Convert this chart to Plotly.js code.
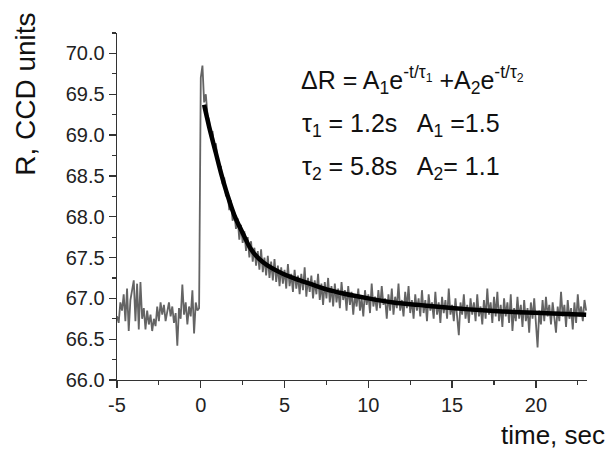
<!DOCTYPE html>
<html>
<head>
<meta charset="utf-8">
<script src="https://cdn.plot.ly/plotly-3.0.1.min.js"></script>
<style>html,body{margin:0;padding:0;background:#fff}#chart{width:611px;height:450px}</style>
</head>
<body>
<div id="chart"></div>
<script>
// Measured reflectance signal, sampled every 0.1 s starting at t = -5.0 s
const signalStart = -5.0;
const signalStep = 0.1;
const signalR = [
  // -5.0 .. -0.1
  66.78, 66.70, 66.95, 66.85, 67.05, 66.72, 67.12, 66.60, 66.98, 67.10,
  67.22, 66.72, 67.18, 66.62, 67.20, 66.75, 66.88, 66.62, 66.85, 66.68,
  66.80, 66.60, 66.75, 66.66, 66.90, 66.72, 66.95, 66.80, 66.92, 66.72,
  66.85, 66.95, 66.78, 66.90, 66.70, 66.82, 66.42, 66.88, 66.75, 67.17,
  66.80, 66.95, 66.68, 66.90, 66.78, 67.10, 66.57, 66.95, 66.85, 66.88,
  // 0.0 .. 4.9
  69.70, 69.85, 69.40, 69.50, 69.25, 69.18, 68.98, 69.05, 68.85, 68.90,
  68.70, 68.60, 68.62, 68.40, 68.48, 68.25, 68.30, 68.08, 68.20, 67.95,
  68.05, 67.85, 67.98, 67.72, 67.90, 67.68, 67.82, 67.58, 67.75, 67.50,
  67.70, 67.45, 67.62, 67.40, 67.58, 67.35, 67.60, 67.32, 67.50, 67.28,
  67.52, 67.25, 67.45, 67.22, 67.48, 67.20, 67.40, 67.15, 67.38, 67.18,
  // 5.0 .. 9.9
  67.35, 67.12, 67.42, 67.15, 67.30, 67.08, 67.35, 67.12, 67.28, 67.05,
  67.30, 67.10, 67.38, 67.02, 67.25, 67.08, 67.28, 67.00, 67.22, 67.05,
  67.30, 66.98, 67.18, 66.92, 67.20, 67.00, 67.25, 66.95, 67.15, 66.90,
  67.18, 66.95, 67.12, 66.88, 67.20, 66.98, 67.10, 66.85, 67.15, 66.92,
  67.08, 66.80, 67.05, 66.90, 67.12, 66.85, 67.00, 66.78, 67.10, 66.92,
  // 10.0 .. 14.9
  67.05, 66.82, 67.18, 66.90, 67.02, 66.85, 67.10, 66.88, 67.15, 66.92,
  67.00, 66.75, 67.05, 66.85, 67.12, 66.80, 67.02, 66.88, 67.18, 66.85,
  66.98, 66.78, 67.08, 66.88, 67.15, 66.82, 66.98, 66.75, 67.05, 66.85,
  67.00, 66.78, 67.10, 66.82, 66.98, 66.72, 67.05, 66.85, 66.95, 66.75,
  67.08, 66.80, 66.95, 66.70, 67.02, 66.82, 66.98, 66.75, 67.12, 66.80,
  // 15.0 .. 19.9
  66.92, 66.72, 67.00, 66.78, 66.55, 66.95, 66.80, 67.05, 66.75, 66.92,
  66.70, 67.00, 66.80, 66.95, 66.72, 67.05, 66.78, 66.90, 66.68, 66.98,
  66.75, 67.12, 66.80, 66.95, 66.70, 67.02, 66.78, 67.08, 66.72, 66.92,
  66.65, 67.00, 66.78, 66.95, 66.70, 67.05, 66.60, 66.88, 66.72, 67.02,
  66.75, 66.92, 66.65, 66.98, 66.72, 66.88, 66.58, 66.95, 66.75, 67.00,
  // 20.0 .. 23.0
  66.70, 66.40, 66.85, 66.68, 66.98, 66.72, 67.02, 66.78, 66.92, 66.68,
  66.95, 66.75, 66.58, 66.90, 66.72, 67.08, 66.78, 66.92, 66.65, 66.98,
  66.75, 66.88, 66.62, 66.95, 66.70, 67.05, 66.78, 66.90, 66.72, 66.98,
  66.85
];

// Bi-exponential fit curve
const fitTime = [0.2, 0.5, 0.9, 1.2, 1.6, 2.0, 2.5, 3.0, 3.5, 4.0, 4.8, 5.5, 6.5, 7.5, 8.5, 10, 11.5, 13, 14.5, 16, 17.5, 19, 21, 23];
const fitR = [69.37, 69.10, 68.78, 68.54, 68.26, 68.02, 67.80, 67.60, 67.48, 67.40, 67.31, 67.25, 67.18, 67.11, 67.06, 67.00, 66.95, 66.92, 66.89, 66.865, 66.845, 66.83, 66.815, 66.80];

// Axis ticks
const xTickValues = [-5, 0, 5, 10, 15, 20];
const yTickValues = [66.0, 66.5, 67.0, 67.5, 68.0, 68.5, 69.0, 69.5, 70.0];

const fontFamily = 'Liberation Sans, Arial, Helvetica, sans-serif';
const NB = '\u00A0';

const traces = [
  {
    type: 'scatter', mode: 'lines',
    x0: signalStart, dx: signalStep, y: signalR,
    line: {color: '#646464', width: 1.8},
    hoverinfo: 'skip', showlegend: false
  },
  {
    type: 'scatter', mode: 'lines',
    x: fitTime, y: fitR,
    line: {color: '#000000', width: 4.5, shape: 'spline'},
    hoverinfo: 'skip', showlegend: false
  }
];

const axisCommon = {
  showline: true, linecolor: '#333', linewidth: 1.3,
  ticks: 'outside', ticklen: 7, tickwidth: 1.3, tickcolor: '#333',
  showgrid: false, zeroline: false, mirror: false,
  tickfont: {family: fontFamily, size: 20, color: '#222'}
};

const layout = {
  width: 611, height: 450,
  margin: {l: 117, r: 24, t: 33, b: 70},
  paper_bgcolor: '#fff', plot_bgcolor: '#fff',
  showlegend: false,
  xaxis: Object.assign({}, axisCommon, {
    range: [-5, 23.05], tickmode: 'array', tickvals: xTickValues,
    ticktext: xTickValues.map(v => String(v)),
    minor: {dtick: 2.5, tick0: 0, ticks: 'outside', ticklen: 4, tickwidth: 1.2, tickcolor: '#333', showgrid: false}
  }),
  yaxis: Object.assign({}, axisCommon, {
    range: [66, 70.25], tickmode: 'array', tickvals: yTickValues,
    ticktext: yTickValues.map(v => v.toFixed(1)),
    minor: {dtick: 0.25, tick0: 66, ticks: 'outside', ticklen: 4, tickwidth: 1.2, tickcolor: '#333', showgrid: false}
  }),
  annotations: [
    {
      text: 'R, CCD units', textangle: -90, showarrow: false,
      xref: 'paper', yref: 'paper', x: -0.195, y: 0.823,
      xanchor: 'center', yanchor: 'middle',
      font: {family: fontFamily, size: 28, color: '#111'}
    },
    {
      text: 'time, sec', showarrow: false,
      xref: 'paper', yref: 'paper', x: 1.04, y: -0.158,
      xanchor: 'right', yanchor: 'middle', borderpad: 0,
      font: {family: fontFamily, size: 26, color: '#111'}
    },
    {
      text: '\u0394R = A<sub>1</sub>e<sup>-t/\u03C4<sub>1</sub></sup> +A<sub>2</sub>e<sup>-t/\u03C4<sub>2</sub></sup>',
      showarrow: false, xref: 'x', yref: 'y', x: 5.85, y: 69.67,
      xanchor: 'left', yanchor: 'middle',
      font: {family: fontFamily, size: 25, color: '#111'}
    },
    {
      text: '\u03C4<sub>1</sub> = 1.2s' + NB + NB + ' A<sub>1</sub> =1.5',
      showarrow: false, xref: 'x', yref: 'y', x: 5.95, y: 69.12,
      xanchor: 'left', yanchor: 'middle',
      font: {family: fontFamily, size: 25, color: '#111'}
    },
    {
      text: '\u03C4<sub>2</sub> = 5.8s' + NB + NB + ' A<sub>2</sub>= 1.1',
      showarrow: false, xref: 'x', yref: 'y', x: 5.95, y: 68.595,
      xanchor: 'left', yanchor: 'middle',
      font: {family: fontFamily, size: 25, color: '#111'}
    }
  ]
};

Plotly.newPlot('chart', traces, layout, {staticPlot: true, displayModeBar: false});
</script>
</body>
</html>
